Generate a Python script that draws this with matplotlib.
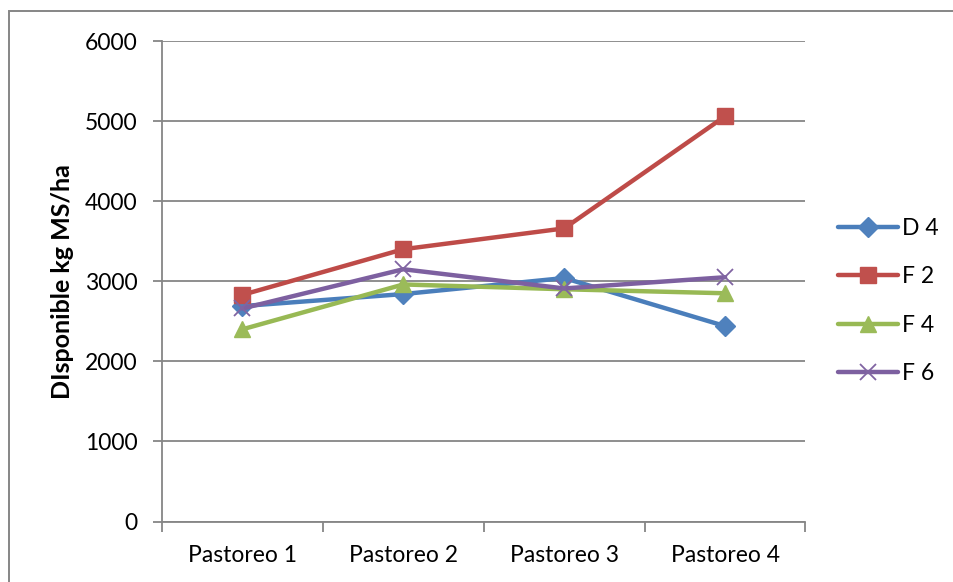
import matplotlib
matplotlib.use("Agg")
import matplotlib.pyplot as plt
from matplotlib.patches import Rectangle
from matplotlib.ticker import FixedLocator, NullFormatter

plt.rcParams['font.family'] = ['Lato', 'DejaVu Sans']

categories = ["Pastoreo 1", "Pastoreo 2", "Pastoreo 3", "Pastoreo 4"]
d4 = [2690, 2840, 3040, 2440]
f2 = [2830, 3400, 3660, 5060]
f4 = [2400, 2960, 2900, 2850]
f6 = [2660, 3150, 2910, 3050]
y_ticks = [0, 1000, 2000, 3000, 4000, 5000, 6000]

W, H = 954, 582
fig = plt.figure(figsize=(W / 100, H / 100), dpi=100)
fig.patch.set_facecolor("white")

# chart-area frame
fig.patches.append(Rectangle((9 / W, -0.1), 1.2, (H - 11) / H + 0.1,
                             transform=fig.transFigure, fill=False,
                             edgecolor="#868686", linewidth=1.4, zorder=0))

ax = fig.add_axes([162 / W, (H - 521.5) / H, (805.5 - 162) / W, (521.5 - 41) / H])

grid_c = "#868686"
x = list(range(len(categories)))

series = [
    ("D 4", d4, "#4A7EBB", "#4F81BD", "D", 10),
    ("F 2", f2, "#BE4B48", "#C0504D", "s", 12),
    ("F 4", f4, "#98B954", "#9BBB59", "^", 12),
    ("F 6", f6, "#7D60A0", "#8064A2", "x", 11),
]
for label, vals, lc, mc, mk, ms in series:
    kw = dict(markerfacecolor=mc, markeredgecolor=mc)
    if mk == "x":
        kw = dict(markeredgecolor=mc, markeredgewidth=1.3)
    ax.plot(x, vals, color=lc, linewidth=3.2, marker=mk, markersize=ms,
            label=label, solid_capstyle="round", solid_joinstyle="round",
            zorder=3, **kw)

ax.set_xlim(-0.5, 3.5)
ax.set_ylim(0, 6000)
ax.set_yticks(y_ticks)
ax.set_yticklabels([str(v) for v in y_ticks])
ax.set_xticks(x)
ax.set_xticklabels(categories)
ax.xaxis.set_minor_locator(FixedLocator([-0.5, 0.5, 1.5, 2.5, 3.5]))
ax.xaxis.set_minor_formatter(NullFormatter())

ax.grid(axis="y", color=grid_c, linewidth=1.3, zorder=0)
ax.set_axisbelow(True)
for side in ("top", "right"):
    ax.spines[side].set_visible(False)
for side in ("left", "bottom"):
    ax.spines[side].set_color(grid_c)
    ax.spines[side].set_linewidth(1.3)

ax.tick_params(axis="y", which="major", length=6.5, width=1.3, color=grid_c,
               pad=11, labelsize=16.5, labelcolor="black")
ax.tick_params(axis="x", which="major", length=0, pad=17, labelsize=16.5,
               labelcolor="black")
ax.tick_params(axis="x", which="minor", length=7, width=1.3, color=grid_c)

ax.set_ylabel("DIsponible kg MS/ha", fontsize=18, fontweight="bold",
              labelpad=8)

fig.legend(loc="center left", bbox_to_anchor=(838 / W, (H - 301) / H),
           frameon=False, fontsize=16.5, handlelength=2.6, handletextpad=0.2,
           labelspacing=1.2, borderpad=0, borderaxespad=0)

fig.savefig("out.png", dpi=100, facecolor="white")
